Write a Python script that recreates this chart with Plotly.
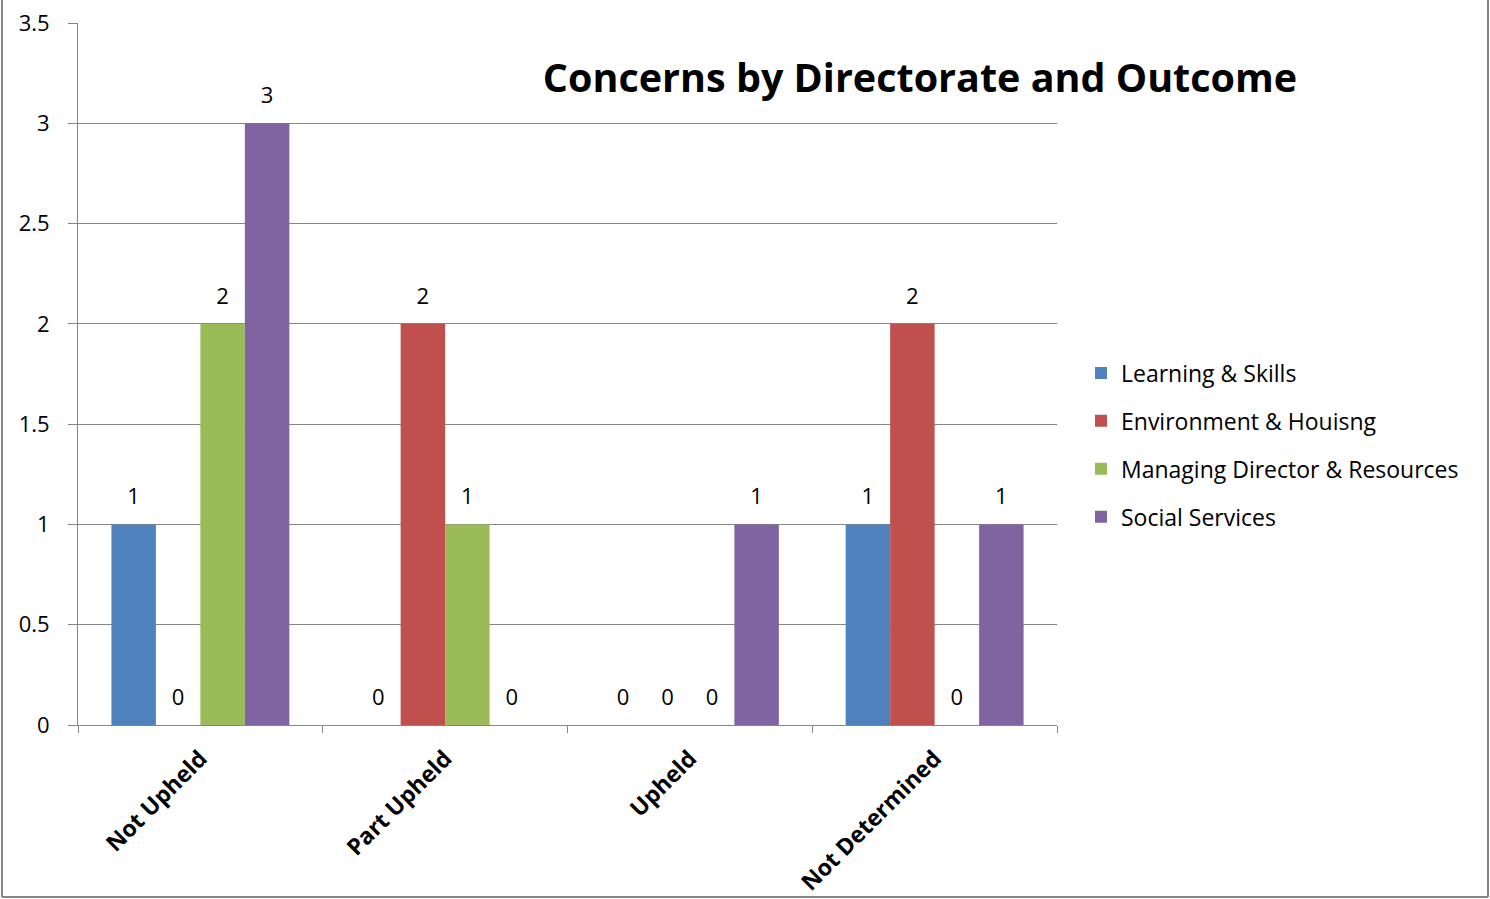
import plotly.graph_objects as go

categories = ["Not Upheld", "Part Upheld", "Upheld", "Not Determined"]
series_names = ["Learning & Skills", "Environment & Houisng",
                "Managing Director & Resources", "Social Services"]
learning = [1, 0, 0, 1]
environment = [0, 2, 0, 2]
managing = [2, 1, 0, 0]
social = [3, 0, 1, 1]
series_values = [learning, environment, managing, social]
colors = ["#4F81BD", "#C0504D", "#9BBB59", "#8064A2"]
ytick_vals = [0, 0.5, 1, 1.5, 2, 2.5, 3, 3.5]
ytick_text = ["0", "0.5", "1", "1.5", "2", "2.5", "3", "3.5"]

FONT = "Open Sans"
GAP = 0.273

fig = go.Figure()
for i, (name, vals) in enumerate(zip(series_names, series_values)):
    fig.add_trace(go.Bar(
        x=categories, y=vals, name=name,
        marker=dict(color=colors[i], line=dict(width=0)),
        offsetgroup=f"s{i}", alignmentgroup="a",
        legendgroup=f"g{i}", hoverinfo="x+y+name",
    ))
for i, (name, vals) in enumerate(zip(series_names, series_values)):
    fig.add_trace(go.Scatter(
        x=categories, y=vals, mode="markers+text",
        text=[str(v) for v in vals], textposition="top center",
        textfont=dict(family=FONT, size=22, color="black"),
        marker=dict(size=22, opacity=0),
        offsetgroup=f"s{i}", alignmentgroup="a",
        showlegend=False, hoverinfo="skip", cliponaxis=False,
    ))

W, H = 1490, 899
L, R, T, B = 78, 433, 23, 174
pw, ph = W - L - R, H - T - B

def px_x(x):
    return (x - L) / pw

def px_y(y):
    return (H - B - y) / ph

fig.update_layout(
    width=W, height=H,
    margin=dict(l=L, r=R, t=T, b=B, autoexpand=False),
    paper_bgcolor="white", plot_bgcolor="white",
    barmode="group", bargap=GAP, bargroupgap=0,
    scattermode="group", scattergap=GAP,
    font=dict(family=FONT, color="black"),
    title=dict(text="<b>Concerns by Directorate and Outcome</b>",
               x=920 / W, y=1 - 78 / H, xanchor="center", yanchor="middle",
               xref="container", yref="container",
               font=dict(family=FONT, size=39.5, color="black")),
    showlegend=True,
    legend=dict(x=1081 / W, y=1 - 445 / H, xref="container", yref="container",
                xanchor="left", yanchor="middle",
                font=dict(family=FONT, size=23, color="black"),
                tracegroupgap=15, bgcolor="rgba(0,0,0,0)"),
    xaxis=dict(type="category", showgrid=False, showline=True,
               linecolor="#868686", linewidth=1,
               ticks="outside", tickson="boundaries", ticklen=7,
               tickcolor="#868686", tickangle=-45, ticklabelstandoff=10,
               tickfont=dict(family=FONT, size=23, color="black", weight="bold"),
               fixedrange=True),
    yaxis=dict(range=[0, 3.5], tickvals=ytick_vals, ticktext=ytick_text,
               showgrid=True, gridcolor="#868686", gridwidth=1,
               showline=True, linecolor="#868686", linewidth=1,
               ticks="outside", ticklen=9, tickcolor="#868686",
               ticklabelstandoff=14,
               tickfont=dict(family=FONT, size=22, color="black"),
               zeroline=False, fixedrange=True),
    shapes=[
        dict(type="line", xref="paper", yref="paper",
             x0=px_x(2), x1=px_x(2), y0=px_y(0), y1=px_y(897),
             line=dict(color="#868686", width=2)),
        dict(type="line", xref="paper", yref="paper",
             x0=px_x(2), x1=px_x(1488), y0=px_y(897), y1=px_y(897),
             line=dict(color="#868686", width=2)),
        dict(type="line", xref="paper", yref="paper",
             x0=px_x(1488), x1=px_x(1488), y0=px_y(0), y1=px_y(897),
             line=dict(color="#868686", width=2)),
    ],
)

fig.write_html("out.html")
